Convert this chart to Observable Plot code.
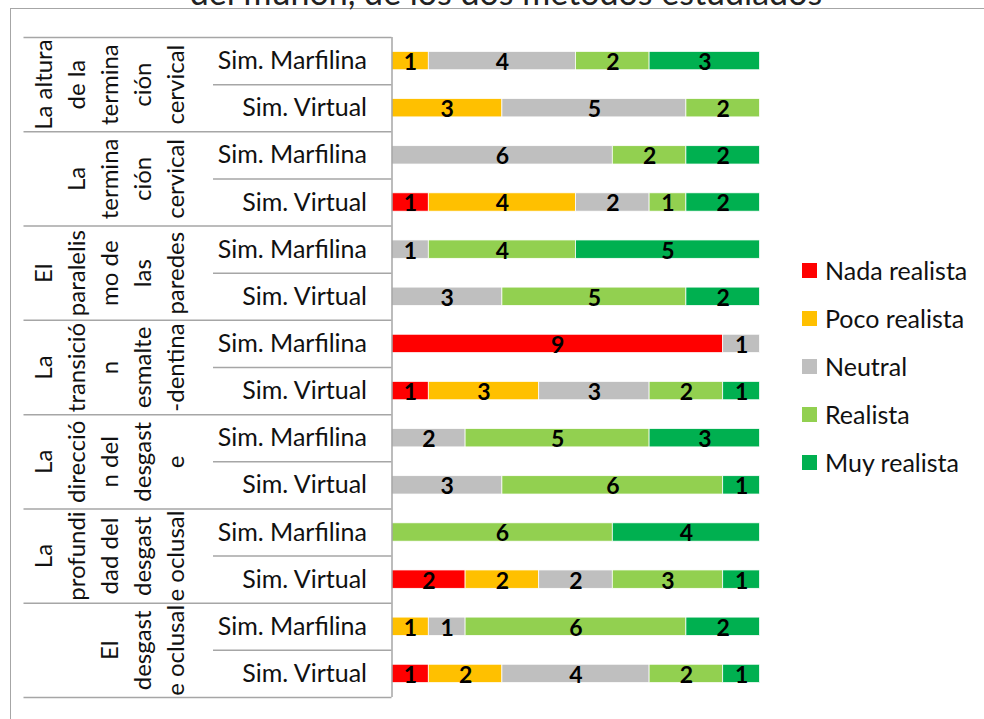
<!DOCTYPE html>
<html>
<head>
<meta charset="utf-8">
<script src="https://cdn.jsdelivr.net/npm/d3@7"></script>
<script src="https://cdn.jsdelivr.net/npm/@observablehq/plot@0.6"></script>
<style>
  html, body { margin: 0; padding: 0; background: #fff; overflow: hidden; }
  body { width: 984px; height: 719px; position: relative; font-family: Lato, sans-serif; }
  #frame { position: absolute; left: 10px; top: 8px; width: 1000px; height: 800px;
           border-left: 1.5px solid #a6a6a6; border-top: 1.5px solid #a6a6a6; }
  #title { position: absolute; left: 0; width: 1012px; top: -28px; text-align: center;
           font-size: 34px; line-height: 1.2; color: #222; white-space: nowrap; }
  #chart { position: absolute; left: 0; top: 0; }
  #legend { position: absolute; left: 802px; top: 246px; }
  .lg-swatches { font-family: Lato, sans-serif; font-size: 25px; color: #111; margin: 0; }
  .lg-swatch { height: 48px; padding: 0 !important; }
  .lg-swatch > svg { margin-right: 8px; }
</style>
</head>
<body>
<div id="frame"></div>
<div id="title">del muñón, de los dos métodos estudiados</div>
<div id="chart"></div>
<div id="legend"></div>
<script>
// Rating levels and their colours
const levels = ["Nada realista", "Poco realista", "Neutral", "Realista", "Muy realista"];
const levelColors = ["#FF0000", "#FFC000", "#BFBFBF", "#92D050", "#00B050"];

// Evaluated aspects, wrapped as they appear in the rotated cells
const aspectLines = [
  ["La altura", "de la", "termina", "ción", "cervical"],
  ["La", "termina", "ción", "cervical"],
  ["El", "paralelis", "mo de", "las", "paredes"],
  ["La", "transició", "n", "esmalte", "-dentina"],
  ["La", "direcció", "n del", "desgast", "e"],
  ["La", "profundi", "dad del", "desgast", "e oclusal"],
  ["El", "desgast", "e oclusal"]
];
const methods = ["Sim. Marfilina", "Sim. Virtual"];

// Counts per row (Marfilina, Virtual for each aspect, top to bottom)
const nada     = [0, 0, 0, 1, 0, 0, 9, 1, 0, 0, 0, 2, 0, 1];
const poco     = [1, 3, 0, 4, 0, 0, 0, 3, 0, 0, 0, 2, 1, 2];
const neutral  = [4, 5, 6, 2, 1, 3, 1, 3, 2, 3, 0, 2, 1, 4];
const realista = [2, 2, 2, 1, 4, 5, 0, 2, 5, 6, 6, 3, 6, 2];
const muy      = [3, 0, 2, 2, 5, 2, 0, 1, 3, 1, 4, 1, 2, 1];

// Build the stacked segments
const seriesByLevel = [nada, poco, neutral, realista, muy];
const rows = nada.map((_, i) => ({row: i, method: methods[i % 2]}));
const segments = [];
rows.forEach(({row}) => {
  let acc = 0;
  seriesByLevel.forEach((vals, k) => {
    const value = vals[row];
    segments.push({row, level: levels[k], value, x1: acc, x2: acc + value});
    acc += value;
  });
});
const aspects = aspectLines.map((lines, g) => ({g, text: lines.join("\n")}));

// Table geometry, in units of the x scale (the table sits left of zero)
const X_TABLE = -10;
const X_METHOD = -4.85;
const X_ASPECT = -5.66;
const lineColor = "#a6a6a6";
const labelSize = 25;
const aspectSize = 24;
const valueSize = 23;

const chart = Plot.plot({
  width: 984,
  height: 719,
  margin: 0,
  x: {domain: [0, 10], range: [391.5, 759.5], axis: null},
  y: {domain: [0, 14], range: [37, 697], axis: null},
  color: {domain: levels, range: levelColors},
  style: {fontFamily: "Lato, sans-serif", background: "transparent", overflow: "visible"},
  marks: [
    Plot.rectX(segments.filter(d => d.value > 0), {
      x1: "x1", x2: "x2", y1: "row", y2: d => d.row + 1,
      fill: "level", insetTop: 14.4, insetBottom: 14.4,
      stroke: "white", strokeWidth: 0.75
    }),
    Plot.text(segments.filter(d => d.value > 0), {
      x: d => (d.x1 + d.x2) / 2, y: d => d.row + 0.5, text: d => String(d.value),
      fontSize: valueSize, fontWeight: "bold", fill: "#000", dy: 1.5
    }),
    Plot.ruleY(d3.range(0, 15, 2), {x1: X_TABLE, x2: 0, stroke: lineColor, strokeWidth: 1.5}),
    Plot.ruleY(d3.range(1, 14, 2), {x1: X_METHOD, x2: 0, stroke: lineColor, strokeWidth: 1.5}),
    Plot.ruleX([0], {y1: 0, y2: 14, stroke: lineColor, strokeWidth: 1.5}),
    Plot.text(rows, {
      x: 0, y: d => d.row + 0.5, text: "method", textAnchor: "end", dx: -25,
      fontSize: labelSize, fill: "#111"
    }),
    Plot.text(aspects, {
      x: X_ASPECT, y: d => d.g * 2 + 1, text: "text", rotate: -90,
      lineAnchor: "bottom", lineHeight: 33 / aspectSize, textAnchor: "middle",
      fontSize: aspectSize, fill: "#111"
    })
  ]
});
document.getElementById("chart").append(chart);

const legend = Plot.legend({
  color: {domain: levels, range: levelColors},
  legend: "swatches",
  columns: 1,
  swatchSize: 15,
  className: "lg"
});
document.getElementById("legend").append(legend);
</script>
</body>
</html>
